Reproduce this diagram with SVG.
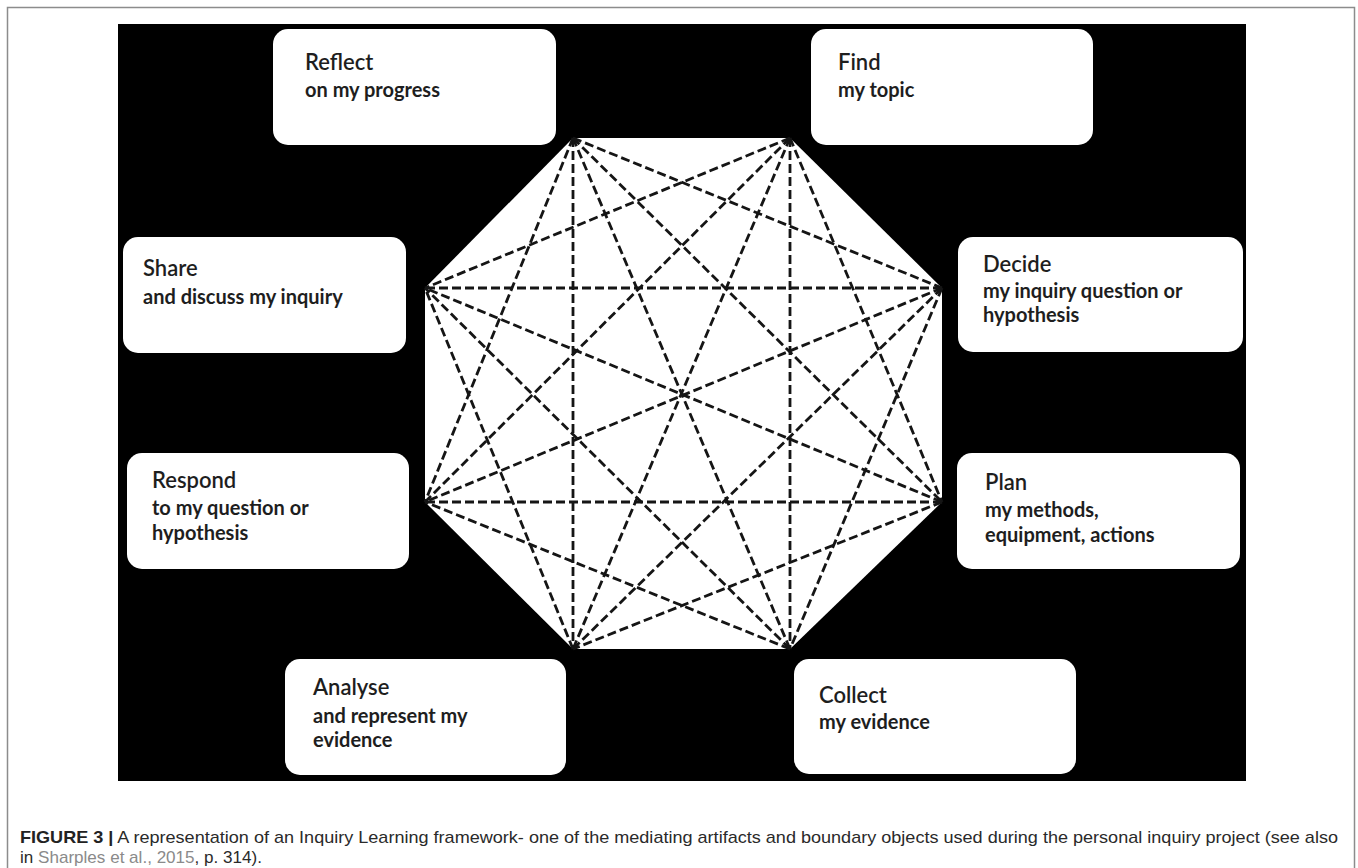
<svg xmlns="http://www.w3.org/2000/svg" width="1358" height="868" viewBox="0 0 1358 868">
<style>
.box{fill:#fff;}
.t{font-family:Lato,"Liberation Sans",sans-serif;fill:#1e1e1e;}
.h{font-size:22px;font-weight:600;}
.s{font-size:20px;font-weight:700;}
.d{stroke:#151515;stroke-width:2.8;stroke-dasharray:9 4;fill:none;}
.cap{font-family:"Liberation Sans",Arial,sans-serif;font-size:17px;fill:#2a2a2a;}
</style>
<rect x="0" y="0" width="1358" height="868" fill="#fff"/>
<rect x="7.5" y="7.5" width="1347" height="875" fill="none" stroke="#8c8c8c" stroke-width="1.5"/>
<rect x="118" y="24" width="1128" height="757" fill="#000"/>
<polygon id="octagon" points="573,138 790,138 942,288 942,502 790,649 573,649 425,502 425,288" fill="#fff"/>
<g id="connectors" class="d">
<line x1="573" y1="138" x2="942" y2="288"/>
<line x1="573" y1="138" x2="942" y2="502"/>
<line x1="573" y1="138" x2="790" y2="649"/>
<line x1="573" y1="138" x2="573" y2="649"/>
<line x1="573" y1="138" x2="425" y2="502"/>
<line x1="790" y1="138" x2="942" y2="502"/>
<line x1="790" y1="138" x2="790" y2="649"/>
<line x1="790" y1="138" x2="573" y2="649"/>
<line x1="790" y1="138" x2="425" y2="502"/>
<line x1="790" y1="138" x2="425" y2="288"/>
<line x1="942" y1="288" x2="790" y2="649"/>
<line x1="942" y1="288" x2="573" y2="649"/>
<line x1="942" y1="288" x2="425" y2="502"/>
<line x1="942" y1="288" x2="425" y2="288"/>
<line x1="942" y1="502" x2="573" y2="649"/>
<line x1="942" y1="502" x2="425" y2="502"/>
<line x1="942" y1="502" x2="425" y2="288"/>
<line x1="790" y1="649" x2="425" y2="502"/>
<line x1="790" y1="649" x2="425" y2="288"/>
<line x1="573" y1="649" x2="425" y2="288"/>
</g>
<g id="reflect">
<rect class="box" x="273" y="29" width="283" height="116" rx="15"/>
<text class="t h" x="305" y="70">Reflect</text>
<text class="t s" x="305" y="97">on my progress</text>
</g>
<g id="find">
<rect class="box" x="811" y="29" width="282" height="116" rx="15"/>
<text class="t h" x="838" y="70">Find</text>
<text class="t s" x="838" y="97">my topic</text>
</g>
<g id="share">
<rect class="box" x="123" y="237" width="283" height="116" rx="15"/>
<text class="t h" x="143" y="276">Share</text>
<text class="t s" x="143" y="304">and discuss my inquiry</text>
</g>
<g id="decide">
<rect class="box" x="958" y="237" width="285" height="115" rx="15"/>
<text class="t h" x="983" y="272">Decide</text>
<text class="t s" x="983" y="298">my inquiry question or</text>
<text class="t s" x="983" y="322">hypothesis</text>
</g>
<g id="respond">
<rect class="box" x="127" y="453" width="282" height="116" rx="15"/>
<text class="t h" x="152" y="488">Respond</text>
<text class="t s" x="152" y="515">to my question or</text>
<text class="t s" x="152" y="540">hypothesis</text>
</g>
<g id="plan">
<rect class="box" x="957" y="453" width="283" height="116" rx="15"/>
<text class="t h" x="985" y="490">Plan</text>
<text class="t s" x="985" y="517">my methods,</text>
<text class="t s" x="985" y="542">equipment, actions</text>
</g>
<g id="analyse">
<rect class="box" x="285" y="659" width="281" height="116" rx="15"/>
<text class="t h" x="313" y="695">Analyse</text>
<text class="t s" x="313" y="723">and represent my</text>
<text class="t s" x="313" y="747">evidence</text>
</g>
<g id="collect">
<rect class="box" x="794" y="659" width="282" height="115" rx="15"/>
<text class="t h" x="819" y="703">Collect</text>
<text class="t s" x="819" y="729">my evidence</text>
</g>
<g id="caption">
<text class="cap" x="20" y="843" textLength="1318" lengthAdjust="spacingAndGlyphs"><tspan font-weight="bold" fill="#222">FIGURE 3 |</tspan> A representation of an Inquiry Learning framework- one of the mediating artifacts and boundary objects used during the personal inquiry project (see also</text>
<text class="cap" x="20" y="863" textLength="242" lengthAdjust="spacingAndGlyphs">in <tspan fill="#8a8a8a">Sharples et al., 2015</tspan>, p. 314).</text>
</g>
</svg>
